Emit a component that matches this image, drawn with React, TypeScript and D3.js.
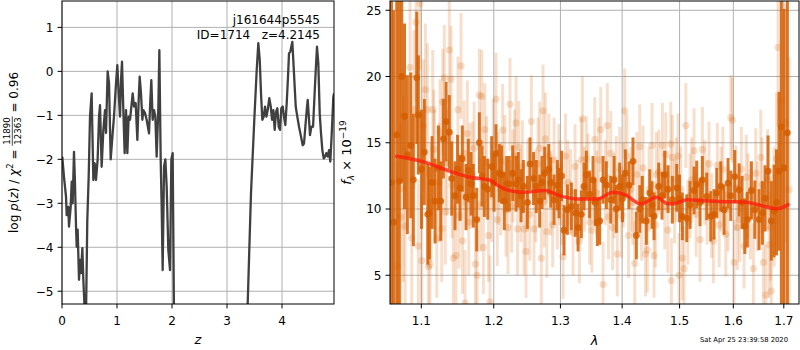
import React, { useEffect, useRef } from "react";
import * as d3 from "d3";

// ---------- left panel: log p(z) ----------
const zGrid = [
  0.005, 0.036, 0.073, 0.085, 0.115, 0.127, 0.158, 0.176, 0.194, 0.218, 0.236, 0.255, 0.267, 0.285,
  0.309, 0.327, 0.345, 0.37, 0.388, 0.418, 0.436, 0.46, 0.485, 0.509, 0.539, 0.57, 0.594, 0.618,
  0.648, 0.673, 0.691, 0.721, 0.752, 0.782, 0.8, 0.83, 0.855, 0.885, 0.921, 0.945, 0.982, 1.006,
  1.03, 1.055, 1.073, 1.091, 1.115, 1.139, 1.164, 1.188, 1.212, 1.237, 1.261, 1.285, 1.309, 1.339,
  1.37, 1.394, 1.412, 1.436, 1.461, 1.479, 1.509, 1.539, 1.582, 1.606, 1.624, 1.648, 1.673, 1.697,
  1.721, 1.752, 1.77, 1.794, 1.812, 1.83, 1.855, 1.879, 1.903, 1.933, 1.964, 1.988, 2.012, 2.024,
  2.036, 2.06, 3.35, 3.376, 3.436, 3.496, 3.54, 3.569, 3.595, 3.618, 3.642, 3.667, 3.691, 3.715,
  3.74, 3.769, 3.795, 3.818, 3.842, 3.867, 3.891, 3.915, 3.94, 3.964, 3.987, 4.013, 4.036, 4.06,
  4.085, 4.109, 4.127, 4.151, 4.169, 4.187, 4.205, 4.224, 4.249, 4.278, 4.309, 4.34, 4.376, 4.4,
  4.424, 4.449, 4.467, 4.491, 4.509, 4.533, 4.564, 4.587, 4.613, 4.636, 4.66, 4.685, 4.709, 4.733,
  4.758, 4.782, 4.805, 4.831, 4.855, 4.878, 4.904, 4.933, 4.945,
];
const logPz = [
  -1.94, -2.4, -2.85, -3.27, -3.08, -3.53, -3.08, -2.51, -3.0, -1.83, -2.54, -3.53, -3.99, -3.6,
  -4.74, -4.29, -4.59, -4.02, -4.74, -5.6, -5.6, -3.38, -2.4, -1.03, -0.5, -2.47, -2.09, -2.47,
  -2.0, -1.03, -0.77, -2.17, -1.33, -0.88, -1.4, 0.0, -0.27, -2.0, -1.41, -1.03, -0.27, 0.14,
  -0.5, -1.03, -0.2, 0.22, -0.88, -1.86, -0.88, -1.86, -1.03, -1.1, -0.8, -0.5, -0.8, -0.72,
  -1.56, -0.65, -0.12, -0.5, -1.1, -0.88, -0.95, -1.1, -1.41, -0.65, -0.2, -1.1, -0.88, -1.03,
  -1.94, -0.8, 0.48, -2.0, -3.08, -4.52, -2.17, -2.0, -2.62, -4.06, -4.52, -2.0, -1.86, -3.68,
  -5.6, -8.0, -8.0, -5.28, -2.77, -1.1, 0.03, 0.64, 0.26, -0.5, -1.1, -1.03, -0.8, -1.03,
  -0.88, -0.61, -0.8, -1.1, -0.88, -1.33, -0.92, -0.84, -1.26, -1.33, -0.84, -0.8, -1.03, -1.22,
  -0.73, -0.12, 0.41, 0.45, 0.56, 0.67, 0.26, -0.2, -0.8, -1.03, -1.26, -1.45, -1.68, -1.64,
  -1.26, -0.88, -0.65, -1.1, -1.45, -1.26, -1.26, -0.65, 0.03, 0.56, 0.18, -0.95, -1.41, -1.79,
  -1.98, -1.94, -1.86, -1.94, -1.79, -2.05, -1.41, -0.58, -0.5,
];
const zTicks = [0, 1, 2, 3, 4];
const pTicks = [-5, -4, -3, -2, -1, 0, 1];

// ---------- right panel: spectrum [lambda (micron), flux, error] ----------
const darkPoints: number[][] = [
  [1.0613, 12.0, 16], [1.0639, 9.0, 16], [1.068, 15.6, 14], [1.0713, 12.1, 14], [1.0744, 20.0, 8],
  [1.078, 17.0, 7], [1.0817, 14.1, 6], [1.0861, 14.8, 5.5], [1.0895, 12.2, 5], [1.094, 19.9, 5],
  [1.0961, 17.1, 4.5], [1.1003, 13.0, 4.5], [1.104, 14.3, 4], [1.1085, 9.6, 3.8], [1.1107, 9.7, 3.5],
  [1.1143, 12.0, 3.5], [1.1183, 10.6, 3.2], [1.1228, 13.1, 3.2], [1.126, 10.6, 3.0], [1.1295, 15.3, 3.0],
  [1.1332, 16.6, 3.0], [1.1376, 15.8, 2.8], [1.1409, 12.3, 2.8], [1.1454, 11.0, 2.6], [1.1489, 13.0, 2.6],
  [1.1523, 11.6, 2.5], [1.1555, 13.8, 2.5], [1.1607, 10.9, 2.5], [1.1639, 12.9, 2.4], [1.1677, 11.9, 2.4],
  [1.1709, 11.0, 2.4], [1.1757, 9.2, 2.4], [1.1794, 15.0, 2.3], [1.1832, 12.5, 2.3], [1.1865, 11.7, 2.3],
  [1.1913, 11.5, 2.3], [1.197, 13.2, 2.3], [1.2004, 12.0, 2.2], [1.2032, 14.2, 2.2], [1.208, 12.7, 2.2],
  [1.2115, 12.6, 2.2], [1.2153, 10.6, 2.2], [1.2188, 11.9, 2.1], [1.2226, 11.9, 2.1], [1.2276, 12.7, 2.1],
  [1.2325, 11.9, 2.1], [1.2359, 12.2, 2.1], [1.2399, 11.0, 2.0], [1.2434, 11.7, 2.0], [1.2494, 10.5, 2.0],
  [1.2534, 13.4, 2.0], [1.2587, 12.3, 2.0], [1.2629, 11.7, 2.0], [1.268, 10.6, 2.0], [1.2716, 12.0, 2.0],
  [1.2757, 12.7, 2.0], [1.2819, 13.0, 1.9], [1.285, 12.0, 1.9], [1.2901, 10.7, 1.9], [1.2952, 11.8, 1.9],
  [1.2978, 11.2, 1.9], [1.3018, 12.5, 1.9], [1.3057, 8.4, 1.9], [1.3109, 9.95, 1.9], [1.3172, 10.2, 1.8],
  [1.3236, 9.7, 1.8], [1.3278, 8.6, 1.8], [1.3331, 9.6, 1.8], [1.3374, 11.7, 1.8], [1.3411, 12.6, 1.8],
  [1.3465, 11.1, 1.8], [1.3519, 12.2, 1.8], [1.3552, 10.5, 1.8], [1.3589, 9.0, 1.8], [1.3628, 9.1, 1.8],
  [1.3683, 12.2, 1.8], [1.3737, 11.8, 1.8], [1.381, 10.7, 1.8], [1.3865, 12.2, 1.8], [1.3903, 10.0, 1.8],
  [1.3959, 11.7, 1.8], [1.4006, 10.8, 1.8], [1.4054, 12.7, 1.8], [1.4116, 11.8, 1.8], [1.4184, 13.6, 1.8],
  [1.4241, 8.0, 1.8], [1.4299, 10.0, 1.8], [1.4344, 10.7, 1.8], [1.4413, 9.1, 1.8], [1.4472, 11.2, 1.8],
  [1.4512, 10.3, 1.8], [1.4547, 9.45, 1.8], [1.4629, 11.7, 1.8], [1.4687, 11.0, 1.8], [1.4735, 12.6, 1.8],
  [1.4794, 11.5, 1.8], [1.487, 10.7, 1.8], [1.4949, 11.6, 1.8], [1.4999, 10.8, 1.8], [1.505, 9.45, 1.8],
  [1.513, 9.3, 1.8], [1.519, 10.3, 1.8], [1.5263, 11.4, 1.8], [1.5312, 11.85, 1.8], [1.5373, 10.5, 1.8],
  [1.5416, 12.2, 1.8], [1.5498, 10.95, 1.8], [1.5572, 9.45, 1.9], [1.5634, 9.6, 1.9], [1.5685, 11.2, 1.9],
  [1.576, 11.7, 1.9], [1.5823, 9.95, 1.9], [1.5899, 11.95, 1.9], [1.5951, 11.0, 1.9], [1.6028, 12.45, 2.0],
  [1.6111, 11.45, 2.0], [1.6169, 10.5, 2.0], [1.6222, 8.7, 2.1], [1.6272, 9.2, 2.1], [1.6351, 11.4, 2.2],
  [1.6418, 9.95, 2.2], [1.6502, 9.2, 2.3], [1.6568, 9.7, 2.4], [1.6622, 10.8, 2.5], [1.6682, 12.85, 2.7],
  [1.6747, 9.1, 3.0], [1.6802, 9.85, 3.5], [1.6852, 10.5, 4.0], [1.6903, 12.85, 6.0], [1.695, 16.2, 14],
  [1.7005, 13.1, 12], [1.7073, 15.75, 15],
];
const lightPoints: number[][] = [
  [1.0688, 5.65, 8], [1.0731, 9.4, 7], [1.0765, 11.5, 7], [1.0787, 8.7, 6], [1.0852, 20.7, 6],
  [1.0874, 7.8, 6], [1.0904, 17.5, 6], [1.0931, 24.1, 6], [1.0961, 7.2, 5], [1.0983, 25.5, 5],
  [1.1006, 6.1, 5], [1.1027, 16.3, 5], [1.1054, 19.0, 5], [1.108, 17.5, 5], [1.1094, 5.65, 5],
  [1.1116, 5.8, 4.5], [1.1152, 17.5, 4.5], [1.1176, 13.0, 4.5], [1.1206, 7.8, 4.5], [1.1237, 12.0, 4.5],
  [1.1273, 8.5, 4], [1.1287, 18.1, 4], [1.1308, 19.9, 4], [1.1345, 13.5, 4], [1.1376, 22.0, 4],
  [1.14, 19.8, 4], [1.1431, 6.3, 4], [1.1468, 6.5, 4], [1.1495, 17.5, 4], [1.1537, 20.8, 4],
  [1.1558, 7.6, 4], [1.1593, 2.9, 4], [1.1625, 15.7, 4], [1.1663, 12.5, 4], [1.1701, 12.6, 4],
  [1.1738, 5.85, 3.5], [1.1762, 5.0, 3.5], [1.1794, 18.6, 3.5], [1.1828, 18.5, 3.5], [1.1851, 7.1, 3.5],
  [1.1896, 13.5, 3.5], [1.1946, 3.0, 3.5], [1.1968, 11.0, 3.5], [1.2032, 18.3, 3.5], [1.2065, 12.3, 3.5],
  [1.2129, 15.95, 3.5], [1.2177, 9.9, 3.5], [1.2207, 8.6, 3.5], [1.2236, 17.9, 3.5], [1.228, 12.5, 3.5],
  [1.2325, 16.5, 3.5], [1.2347, 8.5, 3.5], [1.2366, 14.65, 3.5], [1.2395, 11.0, 3.5], [1.2444, 8.5, 3.5],
  [1.2474, 6.8, 3.5], [1.2554, 16.6, 3.5], [1.2594, 8.5, 3.5], [1.2655, 13.4, 3.5], [1.2705, 6.3, 3.5],
  [1.2731, 17.4, 3.5], [1.2767, 15.3, 3.5], [1.279, 8.3, 3.5], [1.285, 11.2, 3.2], [1.2901, 13.7, 3.2],
  [1.2952, 10.15, 3.2], [1.2994, 12.0, 3.2], [1.3041, 6.4, 3.2], [1.3119, 12.0, 3.2], [1.3199, 8.2, 3.2],
  [1.3262, 10.5, 3.2], [1.3331, 13.7, 3.2], [1.3347, 16.8, 3.2], [1.3411, 13.8, 3.2], [1.3465, 9.0, 3.2],
  [1.3547, 15.25, 3.2], [1.3612, 13.7, 3.2], [1.3645, 16.0, 3.2], [1.3683, 4.3, 3.2], [1.3753, 16.3, 3.2],
  [1.3773, 9.4, 3.2], [1.381, 14.2, 3.2], [1.3865, 11.0, 3.2], [1.3919, 6.6, 3.2], [1.3959, 13.0, 3.2],
  [1.4043, 17.4, 3.2], [1.4082, 14.0, 3.2], [1.4107, 8.0, 3.2], [1.415, 11.5, 3.2], [1.4213, 5.9, 3.2],
  [1.4299, 14.7, 3.2], [1.4356, 13.1, 3.2], [1.4396, 6.6, 3.2], [1.443, 6.9, 3.2], [1.4512, 14.8, 3.2],
  [1.4547, 6.5, 3.2], [1.4588, 12.6, 3.2], [1.4693, 14.8, 3.2], [1.4735, 10.15, 3.2], [1.4753, 14.1, 3.2],
  [1.4842, 14.9, 3.2], [1.4852, 4.6, 3.2], [1.487, 13.9, 3.2], [1.4972, 14.0, 3.2], [1.499, 5.0, 3.2],
  [1.505, 6.3, 3.2], [1.5081, 5.5, 3.2], [1.5112, 16.3, 3.2], [1.519, 11.0, 3.2], [1.5263, 14.4, 3.2],
  [1.5373, 7.7, 3.2], [1.5416, 14.5, 3.2], [1.5504, 10.5, 3.2], [1.5621, 7.6, 3.2], [1.5696, 13.3, 3.2],
  [1.5766, 11.5, 3.2], [1.5855, 8.1, 3.2], [1.5951, 16.9, 3.2], [1.5982, 16.7, 3.2], [1.6014, 5.97, 3.2],
  [1.6078, 8.6, 3.2], [1.6155, 13.0, 3.2], [1.6208, 7.2, 3.2], [1.6286, 11.0, 3.2], [1.639, 5.5, 3.4],
  [1.6437, 12.7, 3.4], [1.6536, 13.9, 3.6], [1.6587, 5.97, 3.6], [1.6635, 3.5, 3.8], [1.6701, 7.3, 4],
  [1.6747, 3.8, 4], [1.6802, 10.15, 4.5], [1.6883, 22.2, 6], [1.695, 18.2, 8], [1.7107, 11.45, 10],
  [1.1126, 10.5, 4.5], [1.1165, 14.5, 4.5], [1.125, 15.8, 4], [1.1322, 9.8, 4], [1.1415, 11.8, 4],
  [1.151, 9.5, 4], [1.158, 14.2, 4], [1.1645, 9.0, 4], [1.172, 14.6, 3.5], [1.181, 10.3, 3.5],
  [1.187, 16.0, 3.5], [1.1925, 8.0, 3.5], [1.199, 14.8, 3.5], [1.205, 9.2, 3.5], [1.21, 11.5, 3.5],
  [1.216, 13.6, 3.5], [1.226, 10.2, 3.5], [1.2305, 14.0, 3.5], [1.242, 13.2, 3.5], [1.25, 11.8, 3.5],
  [1.253, 9.6, 3.5], [1.262, 11.0, 3.5], [1.268, 14.6, 3.5], [1.275, 10.6, 3.5], [1.282, 14.0, 3.2],
  [1.288, 8.8, 3.2], [1.2975, 13.2, 3.2], [1.302, 10.5, 3.2], [1.308, 14.0, 3.2], [1.316, 11.3, 3.2],
  [1.323, 13.2, 3.2], [1.33, 7.6, 3.2], [1.338, 11.5, 3.2], [1.344, 12.5, 3.2], [1.35, 8.4, 3.2],
  [1.358, 11.2, 3.2], [1.372, 12.0, 3.2], [1.384, 8.6, 3.2], [1.39, 12.3, 3.2], [1.399, 9.5, 3.2],
  [1.402, 11.8, 3.2], [1.418, 10.5, 3.2], [1.425, 12.6, 3.2], [1.433, 9.3, 3.2], [1.446, 11.5, 3.2],
  [1.457, 8.8, 3.2], [1.463, 12.8, 3.2], [1.479, 8.4, 3.2], [1.491, 10.6, 3.2], [1.494, 12.2, 3.2],
  [1.502, 11.5, 3.2], [1.515, 9.0, 3.2], [1.522, 12.2, 3.2], [1.53, 9.6, 3.2], [1.546, 12.0, 3.2],
  [1.554, 13.4, 3.2], [1.559, 9.5, 3.2], [1.573, 8.8, 3.2], [1.58, 13.0, 3.2], [1.59, 10.0, 3.2],
  [1.605, 11.6, 3.2], [1.612, 9.2, 3.2], [1.625, 12.4, 3.2], [1.633, 9.6, 3.4], [1.647, 10.2, 3.4],
  [1.656, 11.8, 3.6], [1.667, 12.2, 3.8], [1.673, 8.6, 4], [1.685, 13.8, 5], [1.704, 16.5, 9],
];
const modelLam = [
  1.068, 1.103, 1.1386, 1.1663, 1.1946, 1.2042, 1.2163, 1.2434, 1.2757, 1.3014, 1.3278, 1.36, 1.3848,
  1.4043, 1.4326, 1.4587, 1.4794, 1.49, 1.5141, 1.5447, 1.5823, 1.6208, 1.6536, 1.6868, 1.7087,
];
const modelFlux = [
  13.98, 13.56, 12.85, 12.4, 12.17, 11.84, 11.5, 11.26, 11.4, 10.95, 10.76, 10.78, 11.26,
  11.08, 10.38, 10.88, 10.4, 10.4, 10.7, 10.63, 10.55, 10.53, 10.27, 10.02, 10.33,
];
const lamTicks = [1.1, 1.2, 1.3, 1.4, 1.5, 1.6, 1.7];
const fluxTicks = [5, 10, 15, 20, 25];

const objName = "j161644p5545";
const objInfo = "ID=1714   z=4.2145";
const stamp = "Sat Apr 25 23:39:58 2020";

const FONT = "DejaVu Sans, sans-serif";
const ORANGE = "#d55e00";
const GRID = "#b0b0b0";

export default function App() {
  const ref = useRef<SVGSVGElement>(null);
  useEffect(() => {
    const svg = d3.select(ref.current!);
    svg.selectAll("*").remove();
    svg.attr("font-family", FONT);
    const defs = svg.append("defs");

    const minus = (v: number) => (v < 0 ? "\u2212" + Math.abs(v) : String(v));

    function frame(
      x: any, y: any, x0: number, x1: number, y0: number, y1: number,
      xt: number[], yt: number[], id: string
    ) {
      const g = svg.append("g");
      g.selectAll("line.vg").data(xt).join("line").attr("class", "vg")
        .attr("x1", (d) => x(d)).attr("x2", (d) => x(d)).attr("y1", y0).attr("y2", y1)
        .attr("stroke", GRID).attr("stroke-width", 1);
      g.selectAll("line.hg").data(yt).join("line").attr("class", "hg")
        .attr("x1", x0).attr("x2", x1).attr("y1", (d) => y(d)).attr("y2", (d) => y(d))
        .attr("stroke", GRID).attr("stroke-width", 1);
      defs.append("clipPath").attr("id", id).append("rect")
        .attr("x", x0).attr("y", y0).attr("width", x1 - x0).attr("height", y1 - y0);
    }
    function axesDecor(
      x: any, y: any, x0: number, x1: number, y0: number, y1: number,
      xt: number[], yt: number[], xfmt: (v: number) => string
    ) {
      const g = svg.append("g");
      g.append("rect").attr("x", x0).attr("y", y0).attr("width", x1 - x0).attr("height", y1 - y0)
        .attr("fill", "none").attr("stroke", "#000").attr("stroke-width", 1);
      xt.forEach((v) => {
        g.append("line").attr("x1", x(v)).attr("x2", x(v)).attr("y1", y1).attr("y2", y1 + 4.4)
          .attr("stroke", "#000");
        g.append("text").attr("x", x(v)).attr("y", y1 + 20.5).attr("text-anchor", "middle")
          .attr("font-size", 12).text(xfmt(v));
      });
      yt.forEach((v) => {
        g.append("line").attr("x1", x0 - 4.4).attr("x2", x0).attr("y1", y(v)).attr("y2", y(v))
          .attr("stroke", "#000");
        g.append("text").attr("x", x0 - 8.5).attr("y", y(v) + 4.3).attr("text-anchor", "end")
          .attr("font-size", 12).text(minus(v));
      });
    }

    // ---- left panel ----
    const lx = d3.scaleLinear().domain([0, 4.945]).range([62, 334]);
    const ly = d3.scaleLinear().domain([-5.29, 1.6]).range([304, 1]);
    frame(lx, ly, 62, 334, 1, 304, zTicks, pTicks, "clipL");
    const pz = zGrid.map((z, i) => [z, logPz[i]] as [number, number]);
    svg.append("path").datum(pz)
      .attr("d", d3.line<[number, number]>().x((d) => lx(d[0])).y((d) => ly(d[1])))
      .attr("fill", "none").attr("stroke", "#404040").attr("stroke-width", 2.3)
      .attr("stroke-linejoin", "round").attr("clip-path", "url(#clipL)");
    axesDecor(lx, ly, 62, 334, 1, 304, zTicks, pTicks, (v) => String(v));
    svg.append("text").attr("x", 320).attr("y", 24).attr("text-anchor", "end")
      .attr("font-size", 12).text(objName);
    svg.append("text").attr("x", 320).attr("y", 38.5).attr("text-anchor", "end")
      .attr("font-size", 12).style("white-space", "pre").text(objInfo);
    svg.append("text").attr("x", 198).attr("y", 344).attr("text-anchor", "middle")
      .attr("font-size", 13).attr("font-style", "italic").text("z");

    // left y label with fraction
    const lg = svg.append("g").attr("transform", `translate(17.5, 152.5) rotate(-90)`)
      .attr("font-size", 12);
    const tA = lg.append("text").style("white-space", "pre");
    tA.append("tspan").text("log ");
    tA.append("tspan").attr("font-style", "italic").text("p");
    tA.append("tspan").text("(");
    tA.append("tspan").attr("font-style", "italic").text("z");
    tA.append("tspan").text(") / ");
    tA.append("tspan").attr("font-style", "italic").text("\u03c7");
    tA.append("tspan").attr("font-size", 8.5).attr("dy", -5).text("2");
    tA.append("tspan").attr("dy", 5).text(" = ");
    const num = lg.append("text").attr("font-size", 8.6).attr("text-anchor", "middle").text("11890");
    const den = lg.append("text").attr("font-size", 8.6).attr("text-anchor", "middle").text("12363");
    const tC = lg.append("text").style("white-space", "pre").text(" = 0.96");
    const wA = (tA.node() as SVGTextElement).getComputedTextLength();
    const wF = Math.max((num.node() as SVGTextElement).getComputedTextLength(),
      (den.node() as SVGTextElement).getComputedTextLength()) + 2;
    const wC = (tC.node() as SVGTextElement).getComputedTextLength();
    const total = wA + wF + wC;
    const s0 = -total / 2;
    tA.attr("x", s0).attr("y", 0);
    num.attr("x", s0 + wA + wF / 2).attr("y", -7.5);
    den.attr("x", s0 + wA + wF / 2).attr("y", 3.6);
    lg.append("line").attr("x1", s0 + wA).attr("x2", s0 + wA + wF).attr("y1", -5.2).attr("y2", -5.2)
      .attr("stroke", "#000").attr("stroke-width", 0.7);
    tC.attr("x", s0 + wA + wF).attr("y", 0);

    // ---- right panel ----
    const rx = d3.scaleLog().domain([1.0594, 1.7313]).range([390, 799]);
    const ry = d3.scaleLinear().domain([2.83, 25.7]).range([304, 1]);
    frame(rx, ry, 390, 799, 1, 304, lamTicks, fluxTicks, "clipR");
    const data = svg.append("g").attr("clip-path", "url(#clipR)");
    const lightG = data.append("g");
    lightG.selectAll("line").data(lightPoints).join("line")
      .attr("x1", (d) => rx(d[0])).attr("x2", (d) => rx(d[0]))
      .attr("y1", (d) => ry(d[1] - d[2])).attr("y2", (d) => ry(d[1] + d[2]))
      .attr("stroke", ORANGE).attr("stroke-opacity", 0.2).attr("stroke-width", 3);
    lightG.selectAll("circle").data(lightPoints).join("circle")
      .attr("cx", (d) => rx(d[0])).attr("cy", (d) => ry(d[1])).attr("r", 3.6)
      .attr("fill", ORANGE).attr("fill-opacity", 0.2);
    const darkG = data.append("g");
    darkG.selectAll("line").data(darkPoints).join("line")
      .attr("x1", (d) => rx(d[0])).attr("x2", (d) => rx(d[0]))
      .attr("y1", (d) => ry(d[1] - d[2])).attr("y2", (d) => ry(d[1] + d[2]))
      .attr("stroke", ORANGE).attr("stroke-opacity", 0.85).attr("stroke-width", 3);
    darkG.selectAll("circle").data(darkPoints).join("circle")
      .attr("cx", (d) => rx(d[0])).attr("cy", (d) => ry(d[1])).attr("r", 3.4)
      .attr("fill", ORANGE).attr("fill-opacity", 0.85);
    const model = modelLam.map((l, i) => [l, modelFlux[i]] as [number, number]);
    data.append("path").datum(model)
      .attr("d", d3.line<[number, number]>().x((d) => rx(d[0])).y((d) => ry(d[1]))
        .curve(d3.curveMonotoneX))
      .attr("fill", "none").attr("stroke", "#ff1a0a").attr("stroke-opacity", 0.75)
      .attr("stroke-width", 3.5).attr("stroke-linecap", "round");
    axesDecor(rx, ry, 390, 799, 1, 304, lamTicks, fluxTicks, (v) => v.toFixed(1));

    // right y label
    const rg = svg.append("g").attr("transform", `translate(351, 152.5) rotate(-90)`);
    const tR = rg.append("text").attr("font-size", 13).attr("text-anchor", "middle").style("white-space", "pre");
    tR.append("tspan").attr("font-style", "italic").text("f");
    tR.append("tspan").attr("font-style", "italic").attr("font-size", 9).attr("dy", 3).text("\u03bb");
    tR.append("tspan").attr("dy", -3).text(" \u00d7 10");
    tR.append("tspan").attr("font-size", 9).attr("dy", -5.5).text("\u221219");

    svg.append("text").attr("x", 594.5).attr("y", 345).attr("text-anchor", "middle")
      .attr("font-size", 13).attr("font-style", "italic").text("\u03bb");
    svg.append("text").attr("x", 788).attr("y", 342).attr("text-anchor", "end")
      .attr("font-size", 6.8).text(stamp);
  }, []);
  return (
    <svg ref={ref} width={800} height={350}
      style={{ position: "absolute", left: 0, top: 0, background: "#fff" }} />
  );
}
